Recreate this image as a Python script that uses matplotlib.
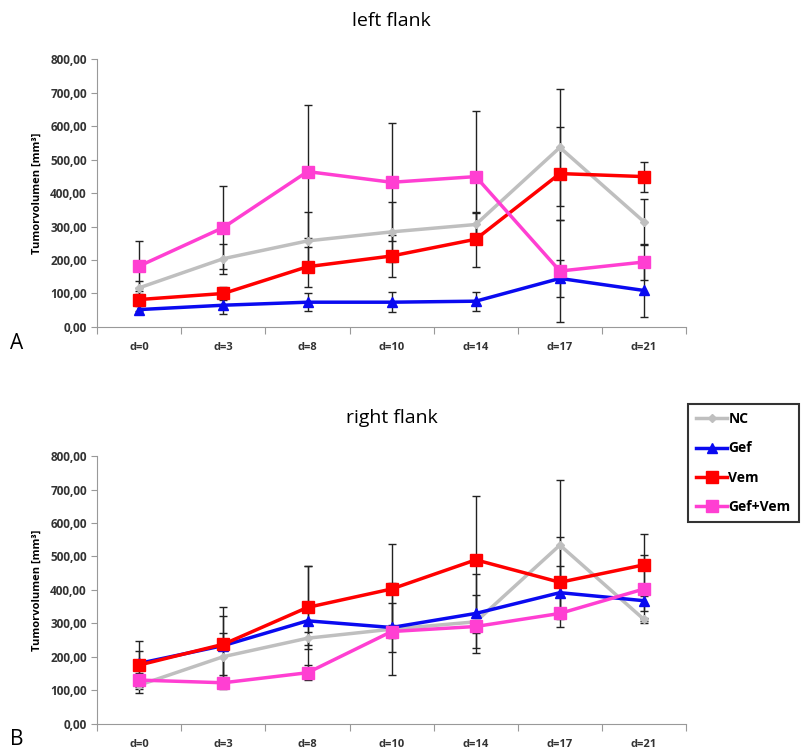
import numpy as np
import matplotlib.pyplot as plt

days = ['d=0', 'd=3', 'd=8', 'd=10', 'd=14', 'd=17', 'd=21']
groups = ['NC', 'Gef', 'Vem', 'Gef+Vem']

# left flank (mean, error)
left_nc = [117, 204, 257, 284, 306, 536, 314]
left_gef = [52, 65, 74, 74, 77, 145, 109]
left_vem = [82, 100, 180, 212, 262, 458, 449]
left_gefvem = [182, 297, 464, 432, 449, 167, 194]
left_nc_err = [20, 45, 87, 90, 35, 176, 68]
left_gef_err = [12, 25, 26, 29, 28, 54, 79]
left_vem_err = [35, 20, 60, 64, 82, 140, 45]
left_gefvem_err = [75, 125, 198, 176, 197, 153, 54]

# right flank (mean, error)
right_nc = [116, 201, 256, 283, 305, 534, 312]
right_gef = [181, 234, 308, 288, 330, 392, 368]
right_vem = [176, 238, 348, 403, 490, 423, 475]
right_gefvem = [131, 123, 153, 276, 291, 330, 403]
right_nc_err = [25, 70, 20, 137, 79, 194, 5]
right_gef_err = [36, 89, 163, 72, 118, 80, 30]
right_vem_err = [72, 110, 125, 134, 191, 134, 92]
right_gefvem_err = [20, 18, 22, 20, 20, 8, 101]

colors = ['#BFBFBF', '#0A0AF0', '#FF0000', '#FF3FD2']
markers = ['D', '^', 's', 's']
msizes = [4, 7, 8, 8]

plt.rcParams['font.family'] = ['Open Sans', 'DejaVu Sans']

fig = plt.figure(figsize=(8.1, 7.51), dpi=100)
ax1 = fig.add_axes([0.12, 0.5646, 0.727, 0.3568])
ax2 = fig.add_axes([0.12, 0.0360, 0.727, 0.3568])


def draw(ax, series, errs, title):
    x = np.arange(len(days))
    for i in range(4):
        ax.errorbar(x, series[i], yerr=errs[i], fmt='none', ecolor='#222222',
                    elinewidth=1, capsize=3, capthick=1, zorder=1)
    for i in range(4):
        ax.plot(x, series[i], color=colors[i], marker=markers[i], ms=msizes[i],
                lw=2.5, label=groups[i], zorder=2 + i)
    ax.set_xlim(-0.5, 6.5)
    ax.set_ylim(0, 800)
    ax.set_yticks(np.arange(0, 801, 100))
    ax.set_yticklabels(['%d,00' % v for v in range(0, 801, 100)],
                       fontweight='bold', fontsize=8.5, color='#333333')
    ax.set_xticks(np.arange(-0.5, 7, 1))
    ax.set_xticklabels([])
    ax.set_xticks(x, minor=True)
    ax.set_xticklabels(days, minor=True, fontweight='bold', fontsize=8, color='#333333')
    ax.tick_params(axis='x', which='minor', length=0, pad=11)
    ax.tick_params(axis='x', which='major', length=5, color='#999999')
    ax.tick_params(axis='y', length=4, color='#999999')
    for s in ['top', 'right']:
        ax.spines[s].set_visible(False)
    for s in ['left', 'bottom']:
        ax.spines[s].set_color('#999999')
    ax.set_ylabel('Tumorvolumen [mm³]', fontweight='bold', fontsize=8, labelpad=5)
    ax.set_title(title, fontsize=14, pad=24)


draw(ax1, [left_nc, left_gef, left_vem, left_gefvem],
     [left_nc_err, left_gef_err, left_vem_err, left_gefvem_err], 'left flank')
draw(ax2, [right_nc, right_gef, right_vem, right_gefvem],
     [right_nc_err, right_gef_err, right_vem_err, right_gefvem_err], 'right flank')

fig.text(0.012, 0.535, 'A', fontsize=15)
fig.text(0.012, 0.008, 'B', fontsize=15)

h, l = ax2.get_legend_handles_labels()
leg = fig.legend(h, l, loc='upper left', bbox_to_anchor=(0.846, 0.466),
                 frameon=True, fancybox=False, handlelength=2.2, handletextpad=0.1,
                 labelspacing=1.1, borderpad=0.6, borderaxespad=0.2,
                 prop={'weight': 'bold', 'size': 10})
leg.get_frame().set_edgecolor('black')
leg.get_frame().set_linewidth(1.5)

fig.savefig('out.png', dpi=100)
